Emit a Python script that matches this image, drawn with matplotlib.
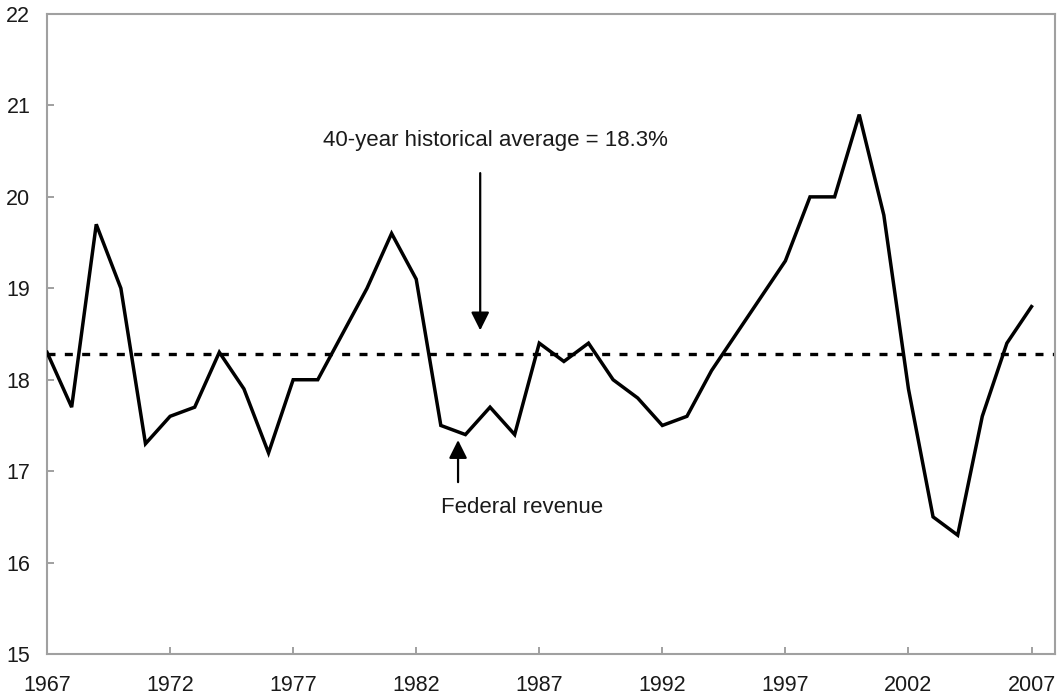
import numpy as np
import matplotlib
matplotlib.use("Agg")
import matplotlib.pyplot as plt

# Federal revenue as share of GDP
years = list(range(1967, 2008))
revenue = [18.3, 17.7, 19.7, 19.0, 17.3, 17.6, 17.7, 18.3, 17.9, 17.2,
           18.0, 18.0, 18.5, 19.0, 19.6, 19.1, 17.5, 17.4, 17.7, 17.4,
           18.4, 18.2, 18.4, 18.0, 17.8, 17.5, 17.6, 18.1, 18.5, 18.9,
           19.3, 20.0, 20.0, 20.9, 19.8, 17.9, 16.5, 16.3, 17.6, 18.4,
           18.8]
hist_avg = 18.28
x_ticks = [1967, 1972, 1977, 1982, 1987, 1992, 1997, 2002, 2007]
y_ticks = [15, 16, 17, 18, 19, 20, 21, 22]

plt.rcParams['font.family'] = ['Liberation Sans', 'DejaVu Sans']

fig = plt.figure(figsize=(10.57, 6.94), dpi=100)
ax = fig.add_axes([0.0445, 0.0576, 0.9535, 0.9222])

ax.plot(years, revenue, color='black', linewidth=2.5, solid_joinstyle='miter', zorder=3)
ax.axhline(hist_avg, color='black', linewidth=2.4, linestyle=(0, (2.4, 2.8)), zorder=2)

ax.set_xlim(1967, 2007.95)
ax.set_ylim(15, 22)
ax.set_xticks(x_ticks)
ax.set_yticks(y_ticks)

for s in ax.spines.values():
    s.set_color('#a0a0a0')
    s.set_linewidth(1.5)

ax.tick_params(axis='both', direction='in', length=5, width=1.2, color='#909090',
               labelsize=15.5, labelcolor='#1a1a1a')
ax.tick_params(axis='x', pad=15)
ax.tick_params(axis='y', pad=12)

# annotations
ax.text(1978.2, 20.62, '40-year historical average = 18.3%', fontsize=16,
        color='#1a1a1a', ha='left', va='center')
ax.annotate('', xy=(1984.6, 18.54), xytext=(1984.6, 20.26),
            arrowprops=dict(arrowstyle='-|>,head_length=0.5,head_width=0.25',
                            color='black', lw=1.6,
                            mutation_scale=22, shrinkA=0, shrinkB=0))

ax.text(1983.0, 16.6, 'Federal revenue', fontsize=16,
        color='#1a1a1a', ha='left', va='center')
ax.annotate('', xy=(1983.7, 17.34), xytext=(1983.7, 16.88),
            arrowprops=dict(arrowstyle='-|>,head_length=0.5,head_width=0.25',
                            color='black', lw=1.6,
                            mutation_scale=22, shrinkA=0, shrinkB=0))

fig.savefig('out.png', dpi=100)
